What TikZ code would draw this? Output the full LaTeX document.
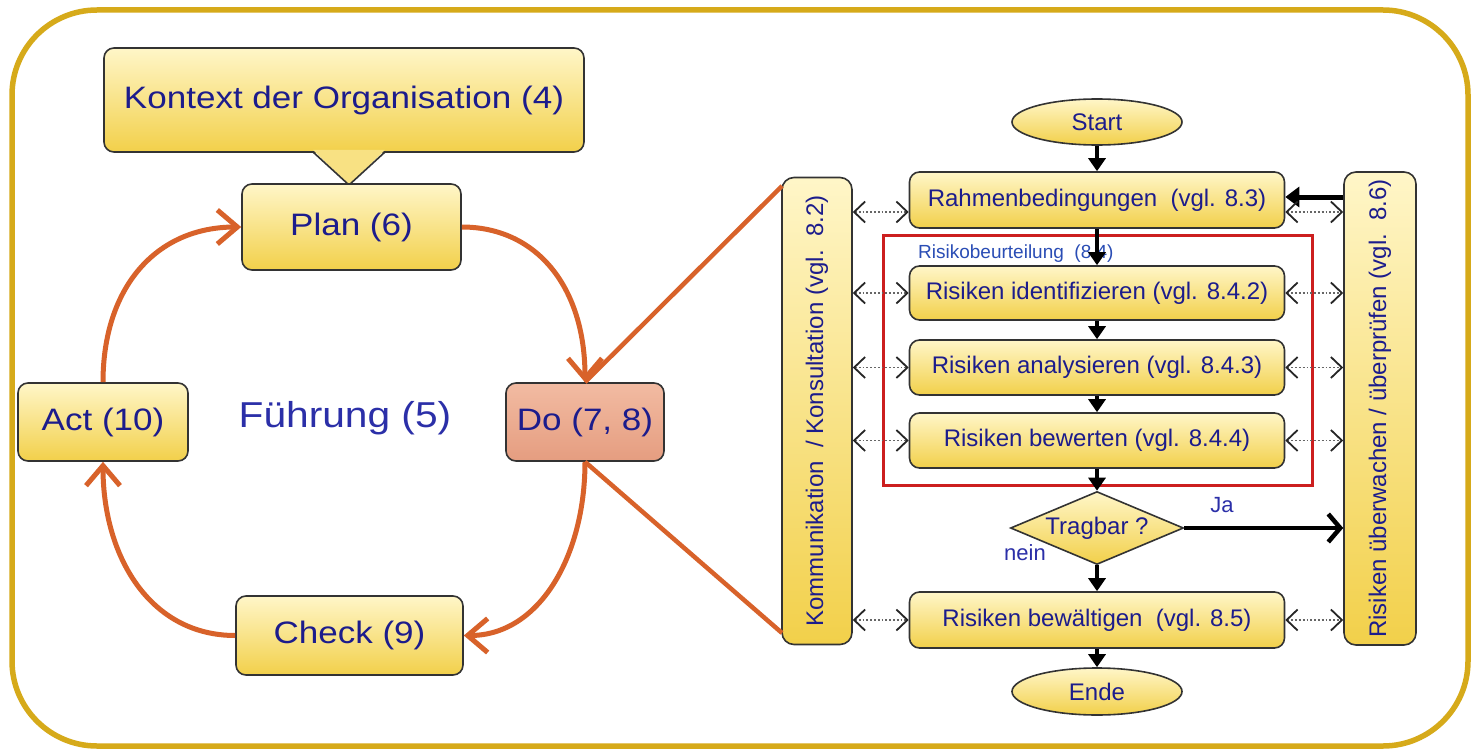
\documentclass[tikz,border=0pt]{standalone}
\usepackage{fontspec}
\setmainfont{Liberation Sans}
\usepackage{graphicx}
\usetikzlibrary{shapes.geometric,arrows.meta,calc}
\definecolor{navy}{HTML}{1C1C8C}
\definecolor{fblue}{HTML}{2B2FA8}
\definecolor{yltop}{HTML}{FFF6C8}
\definecolor{ylbot}{HTML}{F2D04A}
\definecolor{orng}{HTML}{D8622A}
\definecolor{gold}{HTML}{D6AA1A}
\definecolor{dotop}{HTML}{F2BBA2}
\definecolor{dobot}{HTML}{E59D80}
\definecolor{lblue}{HTML}{2A4DB5}
\definecolor{redbox}{HTML}{CC1F1F}
\newcommand\wide[1]{\scalebox{1.13}[1]{#1}}
\begin{document}
\begin{tikzpicture}[x=1pt,y=-1pt,
 base/.style={draw=black!80, line width=1.6pt, top color=yltop, bottom color=ylbot, text=navy, inner sep=0pt, align=center},
 pbox/.style={base, rounded corners=10pt, font=\fontsize{31}{36}\selectfont},
 fbox/.style={base, rounded corners=10pt, minimum width=375, font=\fontsize{24}{28}\selectfont},
 vbox/.style={base, rounded corners=12pt, rotate=90, font=\fontsize{24}{28}\selectfont},
 oval/.style={base, ellipse, minimum width=170, minimum height=46, font=\fontsize{24}{28}\selectfont},
 cyc/.style={orng, line width=5pt, -{Straight Barb[length=20pt,width=34pt]}},
 flow/.style={black, line width=3.4pt, -{Triangle[length=13pt,width=17pt]}},
 bigflow/.style={black, line width=4.5pt, -{Straight Barb[length=12pt,width=28pt]}},
 dotarr/.style={black!60, dotted, line width=1.8pt, {Straight Barb[length=11pt,width=21pt,line width=1.8pt,color=black!85]}-{Straight Barb[length=11pt,width=21pt,line width=1.8pt,color=black!85]}},
 lbl/.style={text=fblue, font=\fontsize{22}{26}\selectfont, inner sep=0pt},
]
\useasboundingbox (0,0) rectangle (1479,754);
\fill[white] (0,0) rectangle (1479,754);
% outer frame
\draw[gold, line width=5.5pt, rounded corners=85pt] (12,10) rectangle (1468,746);

% ---------- PDCA side ----------
\node[pbox, minimum width=480, minimum height=104] (ctx) at (344,100) {\wide{Kontext der Organisation (4)}};
\fill[ylbot!55!yltop] (313,150) -- (349,185) -- (385,150) -- cycle;
\draw[black!80, line width=1.6pt] (313,152) -- (349,185) -- (385,152);
\node[pbox, minimum width=219, minimum height=86] (plan) at (351.5,227) {\wide{Plan (6)}};
\node[pbox, minimum width=170, minimum height=78] (act) at (103,422) {\wide{Act (10)}};
\node[pbox, minimum width=158, minimum height=78, top color=dotop, bottom color=dobot] (do) at (585,422) {\wide{Do (7, 8)}};
\node[pbox, minimum width=227, minimum height=79] (chk) at (349.5,635.5) {\wide{Check (9)}};
\node[text=fblue, font=\fontsize{36}{40}\selectfont, inner sep=0pt] (fuehr) at (345,418) {\wide{Führung (5)}};

\draw[cyc] (plan.east) .. controls +(75,0) and +(0,-95) .. (do.north);
\draw[cyc] (do.south) .. controls +(0,95) and +(75,0) .. (chk.east);
\draw[cyc] (chk.west) .. controls +(-85,0) and +(0,95) .. (act.south);
\draw[cyc] (act.north) .. controls +(0,-95) and +(-85,0) .. (plan.west);

% ---------- flowchart ----------
\node[vbox, minimum width=467, minimum height=70] (komm) at (817,411) {Kommunikation\ \ /\ Konsultation\ (vgl.\ \ 8.2)};
\node[vbox, minimum width=473, minimum height=72] (ueb) at (1380,408.5) {Risiken\ überwachen\ /\ überprüfen\ (vgl.\ \ 8.6)};

\coordinate (kt) at (782,186);
\coordinate (kb) at (782,633);
\draw[orng, line width=4.5pt] (do.north) -- (kt);
\draw[orng, line width=4.5pt] (do.south) -- (kb);

\draw[redbox, line width=3pt] (883,235) rectangle (1312,485);
\node[anchor=west, text=lblue, font=\fontsize{19}{22}\selectfont, inner sep=0pt] (rbl) at (918,254) {Risikobeurteilung\ \ (8.4)};

\node[oval] (start) at (1097,122) {Start};
\node[fbox, minimum height=56] (rahmen) at (1097,200) {Rahmenbedingungen\ \ (vgl. 8.3)};
\node[fbox, minimum height=54] (ident) at (1097,293) {Risiken identifizieren (vgl. 8.4.2)};
\node[fbox, minimum height=55] (analys) at (1097,367.5) {Risiken analysieren (vgl. 8.4.3)};
\node[fbox, minimum height=55] (bew) at (1097,440.5) {Risiken bewerten (vgl. 8.4.4)};
\node[base, diamond, aspect=2.37, minimum width=173, minimum height=73, font=\fontsize{24}{28}\selectfont] (trag) at (1097,528) {Tragbar ?};
\node[fbox, minimum height=56] (bewae) at (1097,620) {Risiken bewältigen\ \ (vgl. 8.5)};
\node[oval, minimum height=47] (ende) at (1097,691.5) {Ende};

\node[lbl] (ja) at (1222,505) {Ja};
\node[lbl] (nein) at (1025,553) {nein};

\draw[flow] (start.south) -- (rahmen.north);
\draw[flow] (rahmen.south) -- (ident.north);
\draw[flow] (ident.south) -- (analys.north);
\draw[flow] (analys.south) -- (bew.north);
\draw[flow] (bew.south) -- (trag.north);
\draw[flow] (trag.south) -- (bewae.north);
\draw[flow] (bewae.south) -- (ende.north);

\draw[bigflow] (trag.east) -- (trag.east -| ueb.north);
\draw[black, line width=5pt, -{Triangle[length=14pt,width=20pt]}] ([yshift=3pt]rahmen.east -| ueb.north) -- ([yshift=3pt]rahmen.east);

\draw[dotarr] ([yshift=-12pt]rahmen.west -| komm.south) -- ([yshift=-12pt]rahmen.west);
\draw[dotarr] ([yshift=-12pt]rahmen.east) -- ([yshift=-12pt]rahmen.east -| ueb.north);
\foreach \b in {ident,analys,bew,bewae}{
  \draw[dotarr] (\b.west -| komm.south) -- (\b.west);
  \draw[dotarr] (\b.east) -- (\b.east -| ueb.north);
}
\end{tikzpicture}
\end{document}
